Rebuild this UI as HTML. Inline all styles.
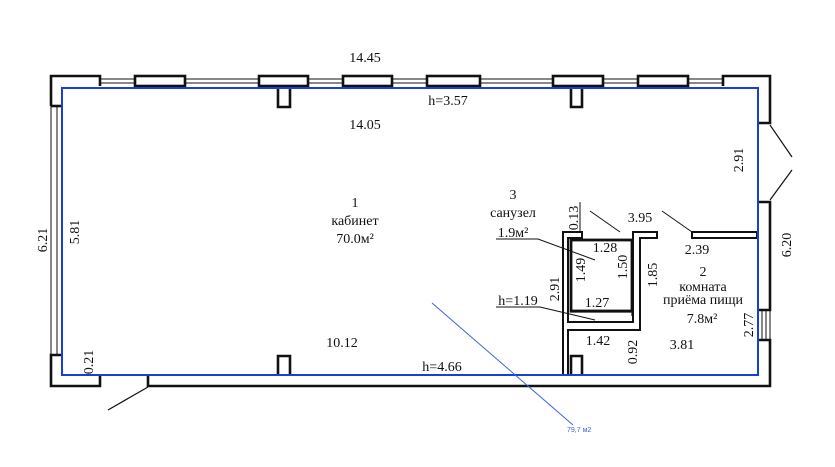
<!DOCTYPE html>
<html><head><meta charset="utf-8"><style>
html,body{margin:0;padding:0;background:#fff;}
svg{display:block;}
text{font-family:"Liberation Serif",serif;font-size:14px;fill:#111;}
</style></head><body>
<svg width="835" height="467" viewBox="0 0 835 467" xmlns="http://www.w3.org/2000/svg">
<g fill="none" stroke="#111" stroke-width="2.6">
<path d="M51,106 V76 H100 V86"/>
<rect x="135" y="76" width="50" height="10"/>
<rect x="259" y="76" width="49" height="10"/>
<rect x="343" y="76" width="49" height="10"/>
<rect x="427" y="76" width="53" height="10"/>
<rect x="553" y="76" width="50" height="10"/>
<rect x="638" y="76" width="50" height="10"/>
<path d="M723,86 V76 H770 V123 H758"/>
<g stroke-width="1">
<path d="M100,79 H135 M100,83 H135 M185,79 H259 M185,83 H259 M308,79 H343 M308,83 H343 M392,79 H427 M392,83 H427 M480,79 H553 M480,83 H553 M603,79 H638 M603,83 H638 M688,79 H723 M688,83 H723"/>
<path d="M51,106 V355 M57,106 V355"/>
<path d="M762,310 V340 M766,310 V340 M770,310 V340"/>
</g>
<path d="M51,106 H62"/>
<path d="M62,355 H51 V386 H100 V375"/>
<path d="M148,375 V386 H770 V340 H758"/>
<path d="M758,310 H770 V202 H758"/>
<path d="M770,125 L792,157 M770,200 L792,170" stroke-width="1.2"/>
<path d="M108,410 L148,387" stroke-width="1.2"/>
<path d="M278,88 V107 H290 V88 M571,88 V107 H582 V88"/>
<path d="M278,375 V356 H290 V375 M571,375 V356 H582 V375"/>
<path d="M563,375 V232 H582 V238 H568 V322 H633 V232 H657 V238 H640 V330 H568 V375" stroke-width="2"/>
<rect x="571" y="240" width="61" height="71" stroke-width="2.8"/>
<path d="M570,312 H632 V316" stroke-width="1.2"/>
<path d="M692,232 H757 V238 H692 Z" stroke-width="2"/>
<g stroke-width="1">
<path d="M580,202 V232"/>
<path d="M590,211 L620,232 M662,211 L692,232"/>
<path d="M496,239 H538 L595,260"/>
<path d="M496,307 H540 L595,320"/>
</g>
</g>
<path d="M62,88 H758 V375 H62 Z" fill="none" stroke="#1a3fd6" stroke-width="2"/>
<path d="M432,303 L573,425" stroke="#3a62e0" stroke-width="1"/>
<text x="567" y="432" style="font-family:'Liberation Sans',sans-serif;font-size:7px;fill:#3a62e0">79,7 м2</text>
<g text-anchor="middle">
<text x="365" y="62">14.45</text>
<text x="365" y="129">14.05</text>
<text x="448" y="105">h=3.57</text>
<text x="355" y="207">1</text>
<text x="355" y="225">кабинет</text>
<text x="355" y="243">70.0м²</text>
<text x="342" y="347">10.12</text>
<text x="442" y="371">h=4.66</text>
<text x="513" y="199">3</text>
<text x="513" y="217">санузел</text>
<text x="513" y="237">1.9м²</text>
<text x="640" y="222">3.95</text>
<text x="605" y="252">1.28</text>
<text x="518" y="305">h=1.19</text>
<text x="597" y="307">1.27</text>
<text x="598" y="345">1.42</text>
<text x="682" y="349">3.81</text>
<text x="697" y="254">2.39</text>
<text x="703" y="276">2</text>
<text x="703" y="291">комната</text>
<text x="703" y="304">приёма пищи</text>
<text x="702" y="323">7.8м²</text>
<text transform="translate(47,240) rotate(-90)">6.21</text>
<text transform="translate(79,232) rotate(-90)">5.81</text>
<text transform="translate(93,362) rotate(-90)">0.21</text>
<text transform="translate(578,218) rotate(-90)">0.13</text>
<text transform="translate(585,270) rotate(-90)">1.49</text>
<text transform="translate(627,267) rotate(-90)">1.50</text>
<text transform="translate(657,275) rotate(-90)">1.85</text>
<text transform="translate(559,289) rotate(-90)">2.91</text>
<text transform="translate(637,352) rotate(-90)">0.92</text>
<text transform="translate(743,160) rotate(-90)">2.91</text>
<text transform="translate(791,245) rotate(-90)">6.20</text>
<text transform="translate(753,325) rotate(-90)">2.77</text>
</g>
</svg>
</body></html>
